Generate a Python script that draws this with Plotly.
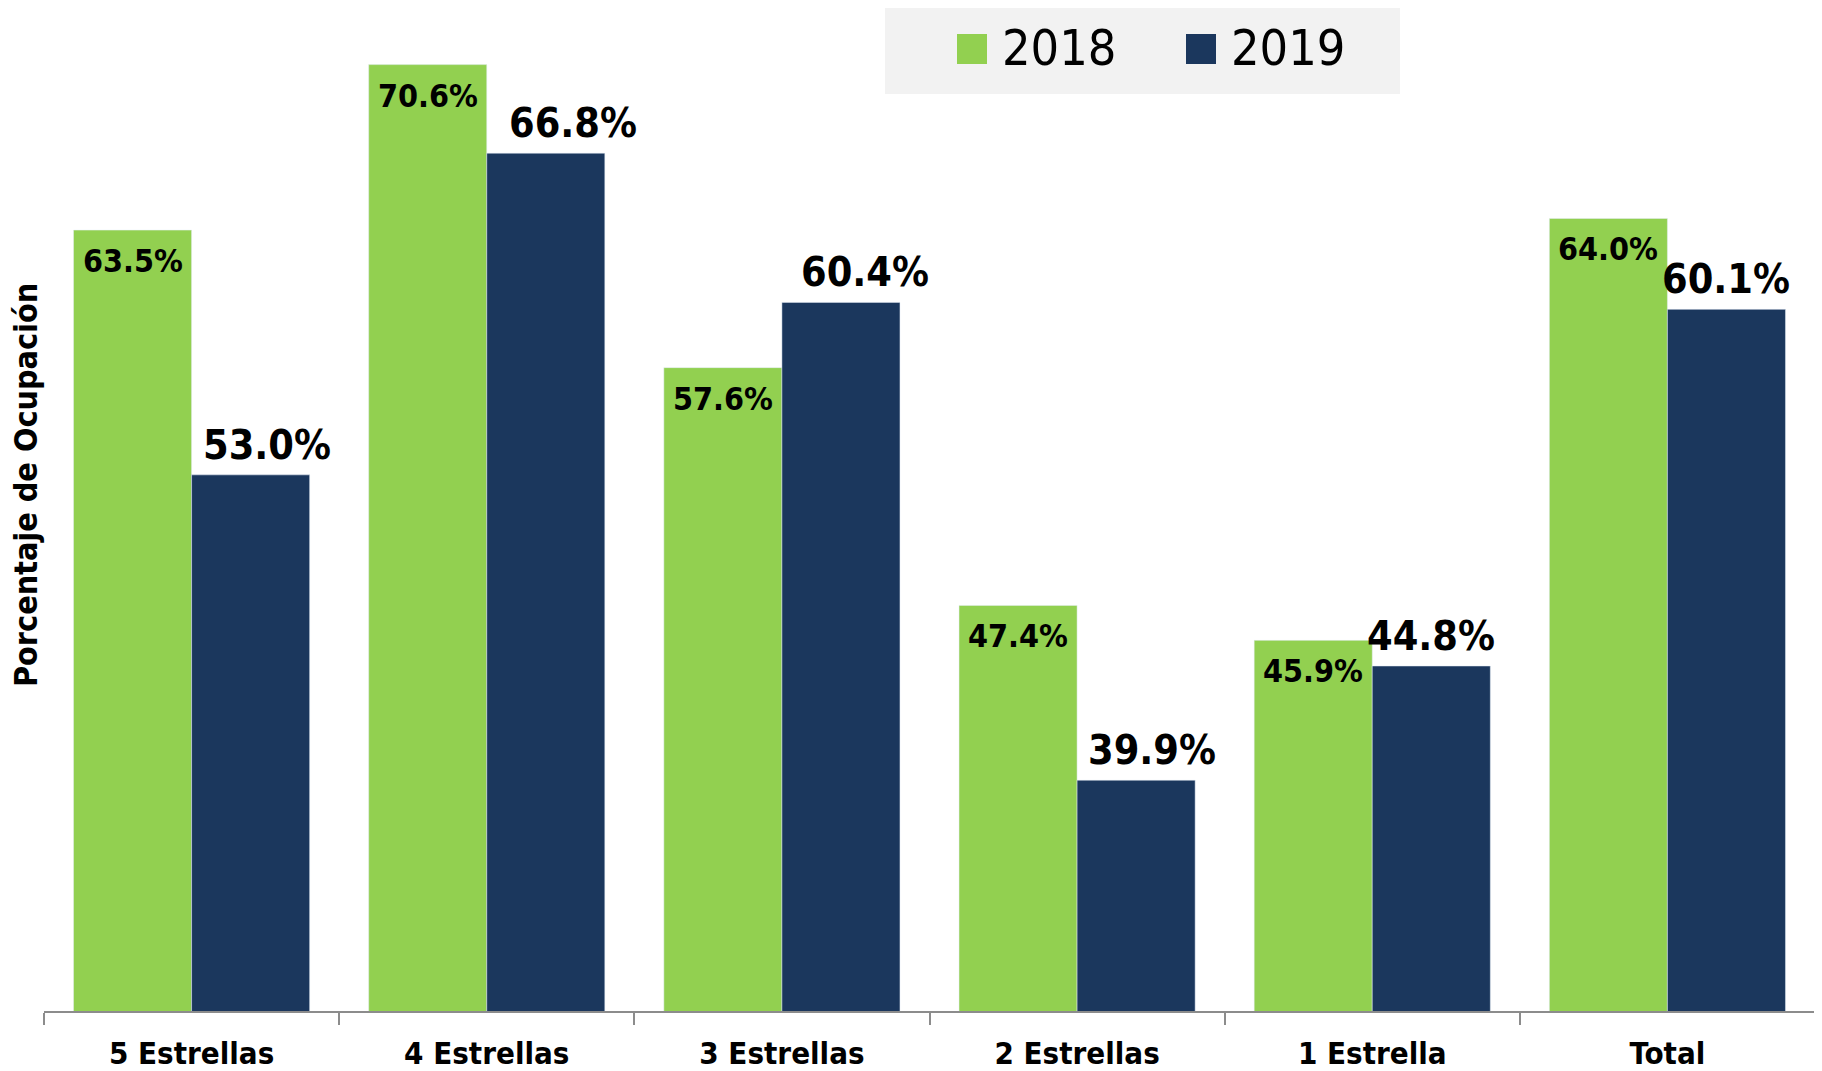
import plotly.graph_objects as go

categorias = ['5 Estrellas', '4 Estrellas', '3 Estrellas', '2 Estrellas', '1 Estrella', 'Total']
ocup_2018 = [63.5, 70.6, 57.6, 47.4, 45.9, 64.0]
ocup_2019 = [53.0, 66.8, 60.4, 39.9, 44.8, 60.1]
anios = ['2018', '2019']

VERDE = '#92D050'
AZUL = '#1B375D'
FUENTE = 'DejaVu Sans Condensed'

# la pagina deja 8px de margen al body
OFF = 8
W, H = 1822 - OFF, 1071 - OFF
L, R, T, B = 44 - OFF, 7, 2, 60
pw, ph = W - L - R, H - T - B
px_pct = 23.31
ymax = 30 + ph / px_pct
media_barra = pw / 6 * 0.8 / 4  # medio ancho de barra en px
# corrimiento horizontal de las etiquetas 2019 (px)
corr_2019 = [16, 27, 24, 16, 0, 0]


# coordenadas de pagina -> papel
def fx(p):
    return (p - OFF - L) / pw


def fy(p):
    return (H - B - (p - OFF)) / ph


fig = go.Figure()
fig.add_trace(go.Bar(x=categorias, y=ocup_2018, name=anios[0], marker_color=VERDE))
fig.add_trace(go.Bar(x=categorias, y=ocup_2019, name=anios[1], marker_color=AZUL))

# etiquetas de datos
for cat, v in zip(categorias, ocup_2018):
    fig.add_annotation(x=cat, y=v, text=f'{v:.1f}%', showarrow=False,
                       xshift=-media_barra, yshift=-10, yanchor='top',
                       font=dict(family=FUENTE, size=32, color='black', weight='bold'))
for cat, v, c in zip(categorias, ocup_2019, corr_2019):
    fig.add_annotation(x=cat, y=v, text=f'{v:.1f}%', showarrow=False,
                       xshift=media_barra + c, yshift=4, yanchor='bottom',
                       font=dict(family=FUENTE, size=41, color='black', weight='bold'))

fig.update_layout(
    width=W, height=H, barmode='group', bargap=0.2, bargroupgap=0,
    plot_bgcolor='white', paper_bgcolor='white', showlegend=False,
    margin=dict(l=L, r=R, t=T, b=B, autoexpand=False),
    font=dict(family=FUENTE, color='black'),
)
fig.update_xaxes(
    showline=True, linecolor='#8C8C8C', linewidth=2,
    ticks='outside', tickson='boundaries', ticklen=12, tickcolor='#8C8C8C', tickwidth=2,
    ticklabelstandoff=14,
    tickfont=dict(family=FUENTE, size=31, color='black', weight='bold'),
)
fig.update_yaxes(range=[30, ymax], showgrid=False, showticklabels=False, zeroline=False)

# titulo del eje y
fig.add_annotation(x=fx(26), y=fy(485), xref='paper', yref='paper', text='Porcentaje de Ocupación',
                   textangle=-90, showarrow=False, xanchor='center', yanchor='middle',
                   font=dict(family=FUENTE, size=32, color='black', weight='bold'))

# leyenda
fig.add_shape(type='rect', xref='paper', yref='paper', x0=fx(885), x1=fx(1400), y0=fy(94), y1=fy(2),
              fillcolor='#F2F2F2', line_width=0, layer='below')
for color, anio, sx, tx in [(VERDE, anios[0], 957, 1000), (AZUL, anios[1], 1186, 1229)]:
    fig.add_shape(type='rect', xref='paper', yref='paper', x0=fx(sx), x1=fx(sx + 30),
                  y0=fy(64), y1=fy(34), fillcolor=color, line_width=0)
    fig.add_annotation(x=fx(tx), y=fy(48), xref='paper', yref='paper', text=anio,
                       showarrow=False, xanchor='left', yanchor='middle',
                       font=dict(family=FUENTE, size=50, color='black'))

fig.write_html('out.html')
